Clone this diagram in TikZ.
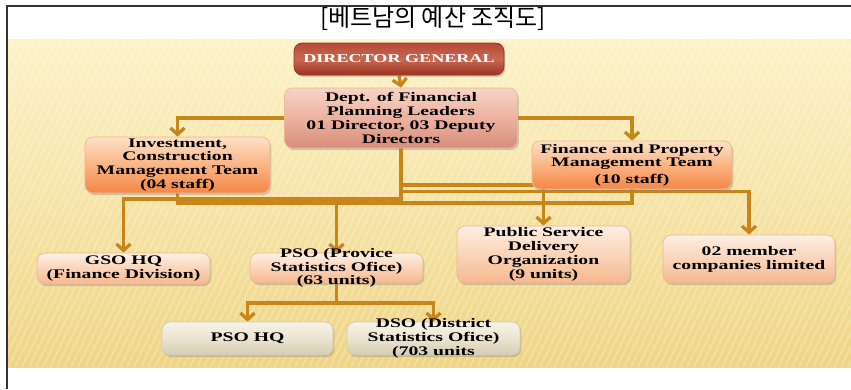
\documentclass[tikz,border=0pt]{standalone}
\usepackage{fontspec}
\setmainfont{Liberation Serif}
\newfontfamily\bx{Liberation Serif}[FakeStretch=1.5]
\newfontfamily\kr{Noto Sans CJK KR}
\usetikzlibrary{arrows.meta,shadows}
\pgfdeclarelayer{back}
\pgfdeclarelayer{mid}
\pgfsetlayers{back,mid,main}
\definecolor{conn}{HTML}{C8861A}
\definecolor{bgtop}{HTML}{FDF2C8}
\definecolor{bgbot}{HTML}{EFD585}
\definecolor{dgtop}{HTML}{B44A36}
\definecolor{dgmid}{HTML}{C96852}
\definecolor{dgbot}{HTML}{9C3422}
\definecolor{dptop}{HTML}{F6D4C6}
\definecolor{dpmid}{HTML}{EDB2A0}
\definecolor{dpbot}{HTML}{D88C7A}
\definecolor{ortop}{HTML}{FDE1C8}
\definecolor{ormid}{HTML}{FAB484}
\definecolor{orbot}{HTML}{F48646}
\definecolor{petop}{HTML}{FDEFE4}
\definecolor{pemid}{HTML}{FAD4B8}
\definecolor{pebot}{HTML}{F6B88E}
\definecolor{gytop}{HTML}{F7F3E8}
\definecolor{gymid}{HTML}{EBE4D0}
\definecolor{gybot}{HTML}{D5CCB2}
\definecolor{boxedge}{HTML}{EDB995}
\tikzset{
  box/.style={rounded corners=7pt, draw=boxedge, line width=0.6pt, inner sep=0pt,
    drop shadow={shadow xshift=1.2pt, shadow yshift=-1.8pt, opacity=0.35}},
  dgbox/.style={box, top color=dgtop, bottom color=dgbot, middle color=dgmid, draw=dgbot},
  dpbox/.style={box, top color=dptop, bottom color=dpbot, middle color=dpmid},
  orbox/.style={box, top color=ortop, bottom color=orbot, middle color=ormid},
  pebox/.style={box, top color=petop, bottom color=pebot, middle color=pemid},
  gybox/.style={box, top color=gytop, bottom color=gybot, middle color=gymid, draw=gybot},
  txt/.style={font=\bx\bfseries\fontsize{11.2}{11.8}\selectfont, align=center, inner sep=0pt},
  wire/.style={draw=conn, line width=2.8pt},
  arr/.style={wire, -{Straight Barb[length=5.5pt,width=12pt]}}
}
\begin{document}
\begin{tikzpicture}[x=0.03cm, y=-0.03cm]
\useasboundingbox (0,0) rectangle (851,389);
% background
\begin{pgfonlayer}{back}
\fill[white] (0,0) rectangle (851,389);
\path[top color=bgtop, bottom color=bgbot] (8,39) rectangle (851,367);
\begin{scope}
\clip (8,39) rectangle (851,367);
\foreach \i in {-300,-293,...,851}
  \draw[white, opacity=0.22, line width=1.6pt] (\i,367) -- (\i+160,39);
\end{scope}
\end{pgfonlayer}
\draw[line width=1.1pt, black!80] (7,389) -- (7,6) -- (851,6);
\node[font=\kr\fontsize{20.5}{22}\selectfont] (title) at (433,19) {[베트남의 예산 조직도]};

% boxes
\node[dgbox, minimum width=6.3cm, minimum height=0.96cm] (DG) at (399,59) {};
\node[dpbox, minimum width=6.99cm, minimum height=1.8cm] (Dept) at (401,118) {};
\node[orbox, minimum width=5.55cm, minimum height=1.68cm] (Inv) at (177.5,165) {};
\node[orbox, minimum width=6.0cm, minimum height=1.44cm] (Fin) at (632,165) {};
\node[pebox, minimum width=5.19cm, minimum height=0.93cm] (GSO) at (123.5,268.5) {};
\node[pebox, minimum width=5.19cm, minimum height=0.9cm] (PSO) at (336.5,268) {};
\node[pebox, minimum width=5.19cm, minimum height=1.71cm] (PS) at (543.5,254.5) {};
\node[pebox, minimum width=5.16cm, minimum height=1.44cm] (Mem) at (749,259) {};
\node[gybox, minimum width=5.13cm, minimum height=0.99cm] (PHQ) at (247.5,338.5) {};
\node[gybox, minimum width=5.19cm, minimum height=0.99cm] (DSO) at (433.5,338.5) {};

% texts
\node[txt, text=white, font=\bx\bfseries\fontsize{10.3}{11}\selectfont] (DGt) at (DG) {DIRECTOR GENERAL};
\node[txt] (Deptt) at (Dept) {Dept. of Financial\\Planning Leaders\\01 Director, 03 Deputy\\Directors};
\node[txt] (Invt) at (Inv) {Investment,\\Construction\\Management Team\\(04 staff)};
\node[txt] (Fint) at (Fin) {Finance and Property\\Management Team\\[2pt](10 staff)};
\node[txt] (GSOt) at (GSO) {GSO HQ\\(Finance Division)};
\node[txt] (PSOt) at (PSO) {PSO (Provice\\Statistics Ofice)\\(63 units)};
\node[txt] (PSt) at (PS) {Public Service\\Delivery\\Organization\\(9 units)};
\node[txt] (Memt) at (Mem) {02 member\\companies limited};
\node[txt] (PHQt) at (PHQ) {PSO HQ};
\node[txt] (DSOt) at (DSO) {DSO (District\\Statistics Ofice)\\(703 units};

% connectors
\begin{pgfonlayer}{mid}
\draw[arr] (DG.south) -- (Dept.north);
\draw[arr] (Dept.west) -| (Inv.north);
\draw[arr] (Dept.east) -| (Fin.north);
\draw[arr] (Dept.south) -- (Dept.south |- 0,199) -| (GSO.north);
\draw[arr] (Dept.south |- 0,185) -| (PS.north);
\draw[arr] (Dept.south |- 0,191.5) -| (Mem.north);
\draw[wire] (Inv.south) |- (Fin.south |- 0,203) coordinate (j5) -- (Fin.south);
\draw[arr] (PSO.north |- j5) -- (PSO.north);
\draw[wire] (PSO.south) -- (PSO.south |- 0,303) coordinate (j8);
\draw[arr] (j8) -| (PHQ.north);
\draw[arr] (j8) -| (DSO.north);
\end{pgfonlayer}
\end{tikzpicture}
\end{document}
